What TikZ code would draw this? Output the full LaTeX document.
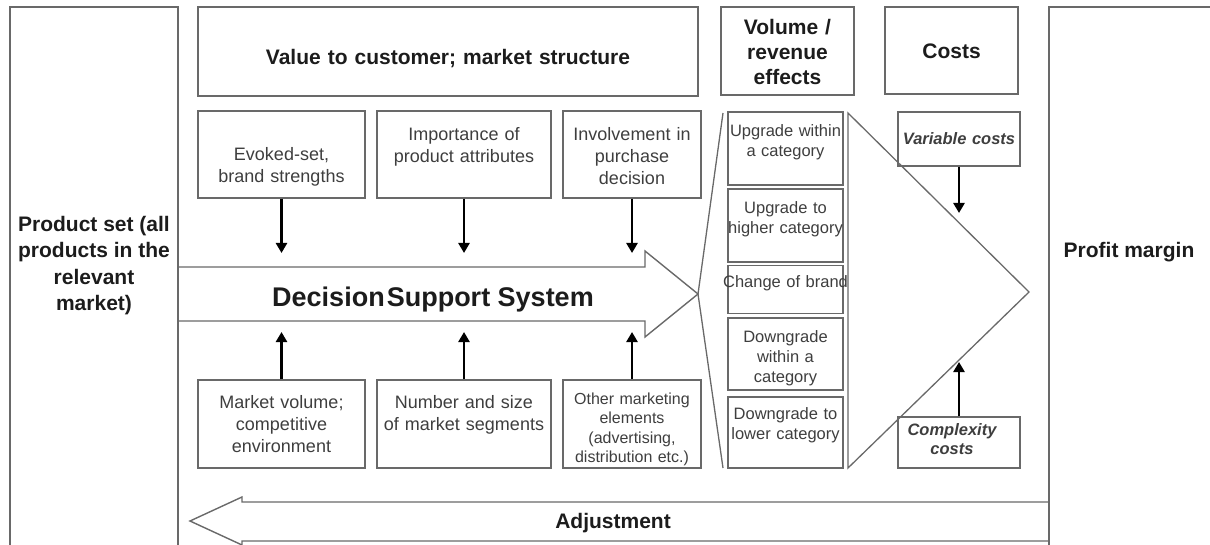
\documentclass[tikz,border=0pt]{standalone}
\usepackage{fontspec}
\setmainfont{Liberation Sans}
\usetikzlibrary{arrows.meta}
\definecolor{LineGray}{RGB}{105,105,105}
\definecolor{TextGray}{RGB}{62,62,62}
\definecolor{InkGray}{RGB}{28,28,28}

\tikzset{
  cell/.style={draw=LineGray,line width=1.4pt,inner sep=0pt,align=center,
               text=TextGray,font=\fontsize{18}{22}\selectfont},
  heading/.style={cell,text=InkGray,font=\fontsize{21}{25}\selectfont\bfseries},
  effect/.style={cell,text width=115pt,font=\fontsize{16.5}{20}\selectfont,
                 text height=22pt},
  cost/.style={cell,text width=122pt,text=InkGray!85,
               font=\fontsize{16.5}{19}\selectfont\bfseries\itshape},
  title/.style={text=InkGray,align=center,font=\fontsize{21}{26.5}\selectfont\bfseries},
  outline/.style={draw=LineGray,line width=1.4pt,line join=miter},
  feed/.style={line width=2.6pt,-{Triangle[length=10pt,width=11pt]}}
}

\begin{document}
\begin{tikzpicture}[x=1pt,y=-1pt]
  \useasboundingbox (0,0) rectangle (1210,545);

  % header row
  \node[heading,text width=500pt,minimum height=89pt,text height=28pt,text depth=2pt]
    (value) at (448,51.5) {Value to customer; market structure};
  \node[heading,text width=133pt,minimum height=88pt,text height=18pt] (volume) at (787.5,51)
    {Volume /\\revenue\\effects};
  \node[heading,text width=133pt,minimum height=87pt,text height=19pt,text depth=2pt]
    (costs) at (951.5,50.5) {Costs};

  % decision support arrow
  \draw[outline] (178,267) -- (645,267) -- (645,251) -- (698,294)
    -- (645,337) -- (645,321) -- (178,321);
  \node[font=\fontsize{27}{30}\selectfont\bfseries,text=InkGray] (dss) at (433,299.5)
    {Decision\hspace{2pt}Support System};
  \coordinate (dsstop) at (0,253);
  \coordinate (dssbot) at (0,332);

  % inputs above
  \node[cell,text width=167pt,minimum height=87pt] (evoked) at (281.5,154.5)
    {\strut\\Evoked-set,\\brand strengths};
  \node[cell,text width=174pt,minimum height=87pt,text height=23pt] (attrib) at (464,154.5)
    {Importance of\\product attributes\\\strut};
  \node[cell,text width=138pt,minimum height=87pt,text height=17pt] (involve) at (632,154.5)
    {Involvement in\\purchase\\decision};
  % inputs below
  \node[cell,text width=167pt,minimum height=88pt] (volmkt) at (281.5,424)
    {Market volume;\\competitive\\environment};
  \node[cell,text width=174pt,minimum height=88pt,text height=19pt] (segments) at (464,424)
    {Number and size\\of market segments\\\strut};
  \node[cell,text width=138pt,minimum height=88pt,text height=22pt,
        font=\fontsize{16}{19.5}\selectfont]
    (othermix) at (632,424) {Other marketing\\elements\\(advertising,\\distribution etc.)};

  \foreach \n in {evoked,attrib,involve}
    \draw[feed] (\n) -- (\n |- dsstop);
  \foreach \n in {volmkt,segments,othermix}
    \draw[feed] (\n) -- (\n |- dssbot);

  % volume / revenue effects
  \coordinate (fan) at (698,294);
  \draw[outline,line width=1.3pt] (723,113) -- (fan) -- (723,468);
  \node[effect,minimum height=73pt] (upin) at (785.5,148.5)
    {Upgrade within\\a category\\\strut};
  \node[effect,minimum height=73pt] (upto) at (785.5,225.5)
    {Upgrade to\\higher category\\\strut};
  \node[effect,minimum height=45pt] (brand) at (785.5,289.5)
    {\makebox[115pt]{Change of brand}\\\strut};
  \node[effect,minimum height=72pt,text height=20pt] (downin) at (785.5,354)
    {Downgrade\\within a\\category};
  \node[effect,minimum height=71pt,text height=20pt] (downto) at (785.5,432.5)
    {Downgrade to\\lower category\\\strut};
  \draw[outline,line width=1.3pt] (848,113) -- (1029,292) -- (848,468) -- cycle;

  % costs
  \node[cost,minimum height=54pt] (varcost) at (959,139) {Variable costs};
  \node[cost,minimum height=51pt,text height=6pt] (cplxcost) at (959,442.5)
    {\hspace*{-14pt}Complexity\\\hspace*{-14pt}costs};
  \coordinate (vartip) at (959,213);
  \coordinate (cplxtip) at (959,362);
  \draw[feed] (varcost) -- (vartip);
  \draw[feed] (cplxcost) -- (cplxtip);

  % adjustment arrow back to the product set
  \draw[outline] (1049,502) -- (242,502) -- (242,497) -- (190,521)
    -- (242,545) -- (242,541) -- (1049,541);
  \node[title] (adjust) at (613,523) {Adjustment};

  % side columns
  \draw[outline] (10,550) |- (178,7) -- (178,550);
  \draw[outline] (1049,550) |- (1215,7);
  \node[title] (prodset) at (94,265.5)
    {Product set (all\\products in the\\relevant\\market)};
  \node[title] (profit) at (1129,252) {Profit margin};
\end{tikzpicture}
\end{document}
